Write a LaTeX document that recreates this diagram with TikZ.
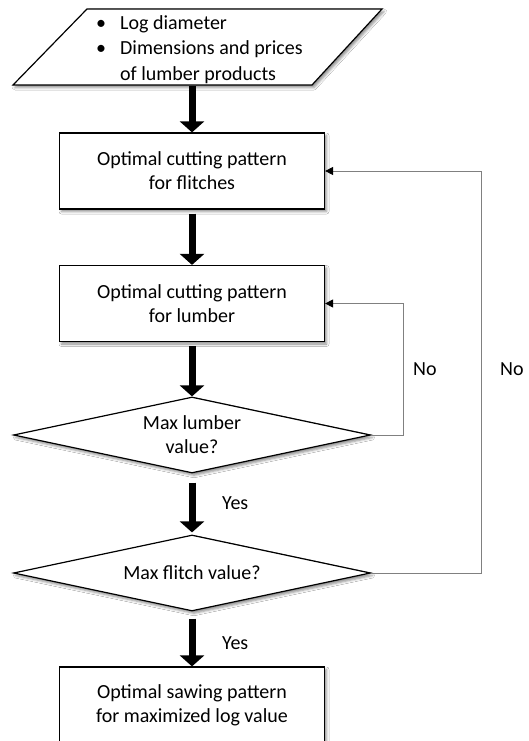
\documentclass[tikz,border=0pt]{standalone}
\usepackage{fontspec}
\setmainfont{Carlito}
\usetikzlibrary{arrows.meta,shapes.geometric,shadows.blur}

\tikzset{
  txt/.style={font=\fontsize{20pt}{24pt}\selectfont},
  softshadow/.style={blur shadow={shadow xshift=2pt, shadow yshift=-2.5pt,
      shadow blur radius=2.5pt, shadow opacity=45}},
  shapeline/.style={draw=black, line width=1.2pt, fill=white, softshadow},
  box/.style={shapeline, txt, rectangle, minimum width=265pt,
      minimum height=76pt, inner sep=0pt, align=center},
  decision/.style={shapeline, txt, diamond, aspect=4.7, minimum width=357pt,
      minimum height=76pt, inner sep=0pt, align=center},
  bigarrow/.style={line width=7pt, draw=black,
      -{Triangle[width=24pt,length=11pt]}},
  loop/.style={draw=black!50, line width=1pt,
      -{Triangle[width=8pt,length=8pt,color=black]}},
  lbl/.style={txt, inner sep=0pt, anchor=west},
}

\begin{document}
\begin{tikzpicture}[x=1pt, y=-1pt]
  \useasboundingbox (0,0) rectangle (528,741);
  \fill[white] (0,0) rectangle (528,741);

  % input data (parallelogram)
  \draw[shapeline] (87,9) -- (382,9) -- (312,85) -- (13,85) -- cycle;
  \node[txt, anchor=west, inner sep=0pt] (intext) at (96,49.5)
    {\fontsize{20pt}{25.5pt}\selectfont
     \begin{tabular}{@{}l@{\hspace{14pt}}l@{}}
       \textbullet & Log diameter\\
       \textbullet & Dimensions and prices\\
                   & of lumber products
     \end{tabular}};
  \coordinate (inbot) at (192,85);

  % process steps and decisions
  \node[box] (flitch) at (192,171) {Optimal cutting pattern\\for flitches};
  \node[box] (lumber) at (192,303.5) {Optimal cutting pattern\\for lumber};
  \node[decision] (maxlumber) at (192,435) {Max lumber\\value?};
  \node[decision] (maxflitch) at (192,573) {Max flitch value?};
  \node[box] (result) at (192,705) {Optimal sawing pattern\\for maximized log value};

  % main flow
  \draw[bigarrow, shorten <=1pt] (inbot) -- (flitch);
  \draw[bigarrow, shorten <=4pt] (flitch) -- (lumber);
  \draw[bigarrow, shorten <=4pt] (lumber) -- (maxlumber);
  \draw[bigarrow, shorten <=9pt, shorten >=2pt] (maxlumber) -- (maxflitch);
  \draw[bigarrow, shorten <=7pt] (maxflitch) -- (result);

  % feedback loops
  \draw[loop] (maxlumber.east) -- ++(32,0) |- (lumber.east);
  \draw[loop] (maxflitch.east) -- ++(110,0) |- (flitch.east);

  % branch labels
  \node[lbl] (nolumber) at (413,369) {No};
  \node[lbl] (noflitch) at (500,369) {No};
  \node[lbl] (yeslumber) at (222,503) {Yes};
  \node[lbl] (yesflitch) at (222,643) {Yes};
\end{tikzpicture}
\end{document}
